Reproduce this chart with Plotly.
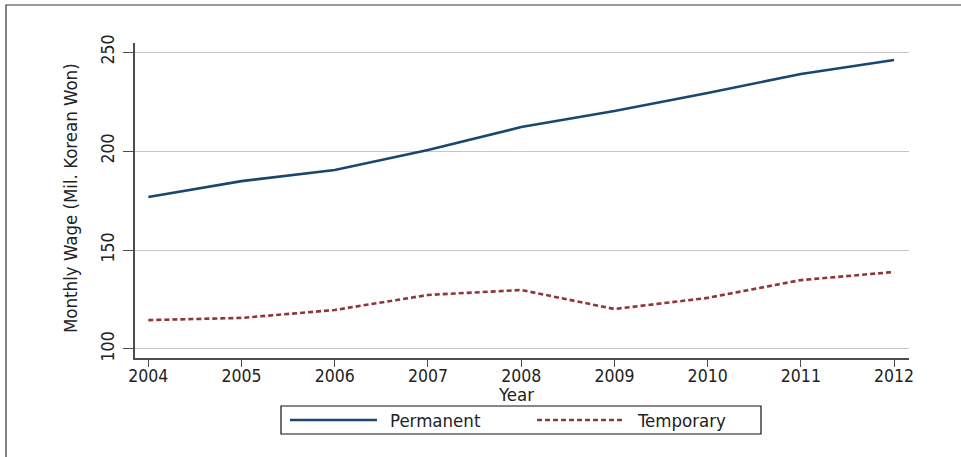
import plotly.graph_objects as go

years = [2004, 2005, 2006, 2007, 2008, 2009, 2010, 2011, 2012]
permanent = [176.8, 184.8, 190.4, 200.5, 212.1, 220.2, 229.3, 238.9, 246.0]
temporary = [114.6, 115.7, 119.7, 127.3, 129.8, 120.2, 125.8, 134.8, 138.9]
series_names = ["Permanent", "Temporary"]
y_ticks = [100, 150, 200, 250]

NAVY = "#1a476f"
MAROON = "#90353b"
FONT = "DejaVu Sans Condensed, Liberation Sans Narrow, sans-serif"
TXT = "#222222"
TICK_SIZE = 17.5
TEXT_SIZE = 18.5

fig = go.Figure()
fig.add_trace(go.Scatter(x=years, y=permanent, mode="lines", name=series_names[0],
                         line=dict(color=NAVY, width=2.6), showlegend=False))
fig.add_trace(go.Scatter(x=years, y=temporary, mode="lines", name=series_names[1],
                         line=dict(color=MAROON, width=2.6, dash="5px,3px"), showlegend=False))

W, H = 961, 457
L, R, T, B = 135, 909, 43, 358
pw, ph = R - L, B - T


def px(x):
    return (x - L) / pw


def py(y):
    return (B - y) / ph


fig.update_layout(
    width=W, height=H,
    margin=dict(l=L, r=W - R, t=T, b=H - B),
    paper_bgcolor="white", plot_bgcolor="white",
    font=dict(family=FONT, size=TEXT_SIZE, color=TXT),
    showlegend=False,
    xaxis=dict(range=[2003.857, 2012.16], tickmode="array", tickvals=years,
               ticks="outside", ticklen=7, tickwidth=1.3, tickcolor="#4d4d4d",
               ticklabelstandoff=-6,
               showline=True, linecolor="#4d4d4d", linewidth=1.5,
               showgrid=False, zeroline=False,
               tickfont=dict(family=FONT, size=TICK_SIZE, color=TXT)),
    yaxis=dict(range=[95.45, 254.55], tickmode="array", tickvals=y_ticks,
               ticks="outside", ticklen=10, tickwidth=1.3, tickcolor="#4d4d4d",
               tickangle=-90, ticklabelstandoff=2,
               showline=True, linecolor="#4d4d4d", linewidth=1.5,
               showgrid=True, gridcolor="#c6c6c6", gridwidth=1.2, zeroline=False,
               tickfont=dict(family=FONT, size=TICK_SIZE, color=TXT)),
)

# axis titles
fig.add_annotation(text="Year", xref="paper", yref="paper", x=px(516), y=py(394),
                   showarrow=False, font=dict(family=FONT, size=TEXT_SIZE, color=TXT),
                   xanchor="center", yanchor="middle")
fig.add_annotation(text="Monthly Wage (Mil. Korean Won)", xref="paper", yref="paper",
                   x=px(70), y=py(198), textangle=-90, showarrow=False,
                   font=dict(family=FONT, size=TEXT_SIZE, color=TXT),
                   xanchor="center", yanchor="middle")

# outer frame
fig.add_shape(type="rect", xref="paper", yref="paper",
              x0=px(6), x1=px(990), y0=py(490), y1=py(5),
              line=dict(color="#333333", width=1.2), fillcolor="rgba(0,0,0,0)", layer="below")

# legend box
fig.add_shape(type="rect", xref="paper", yref="paper",
              x0=px(281), x1=px(761), y0=py(434), y1=py(406),
              line=dict(color="#111111", width=1.2), fillcolor="white")
fig.add_shape(type="line", xref="paper", yref="paper",
              x0=px(290), x1=px(377), y0=py(420), y1=py(420),
              line=dict(color=NAVY, width=2.6))
fig.add_shape(type="line", xref="paper", yref="paper",
              x0=px(537), x1=px(622), y0=py(420), y1=py(420),
              line=dict(color=MAROON, width=2.6, dash="5px,3px"))
fig.add_annotation(text=series_names[0], xref="paper", yref="paper", x=px(388), y=py(420),
                   showarrow=False, xanchor="left", yanchor="middle",
                   font=dict(family=FONT, size=TEXT_SIZE, color=TXT))
fig.add_annotation(text=series_names[1], xref="paper", yref="paper", x=px(635), y=py(420),
                   showarrow=False, xanchor="left", yanchor="middle",
                   font=dict(family=FONT, size=TEXT_SIZE, color=TXT))

fig.write_html("out.html", config={"displayModeBar": False},
               post_script="document.body.style.margin='0';document.body.style.overflow='hidden';")
